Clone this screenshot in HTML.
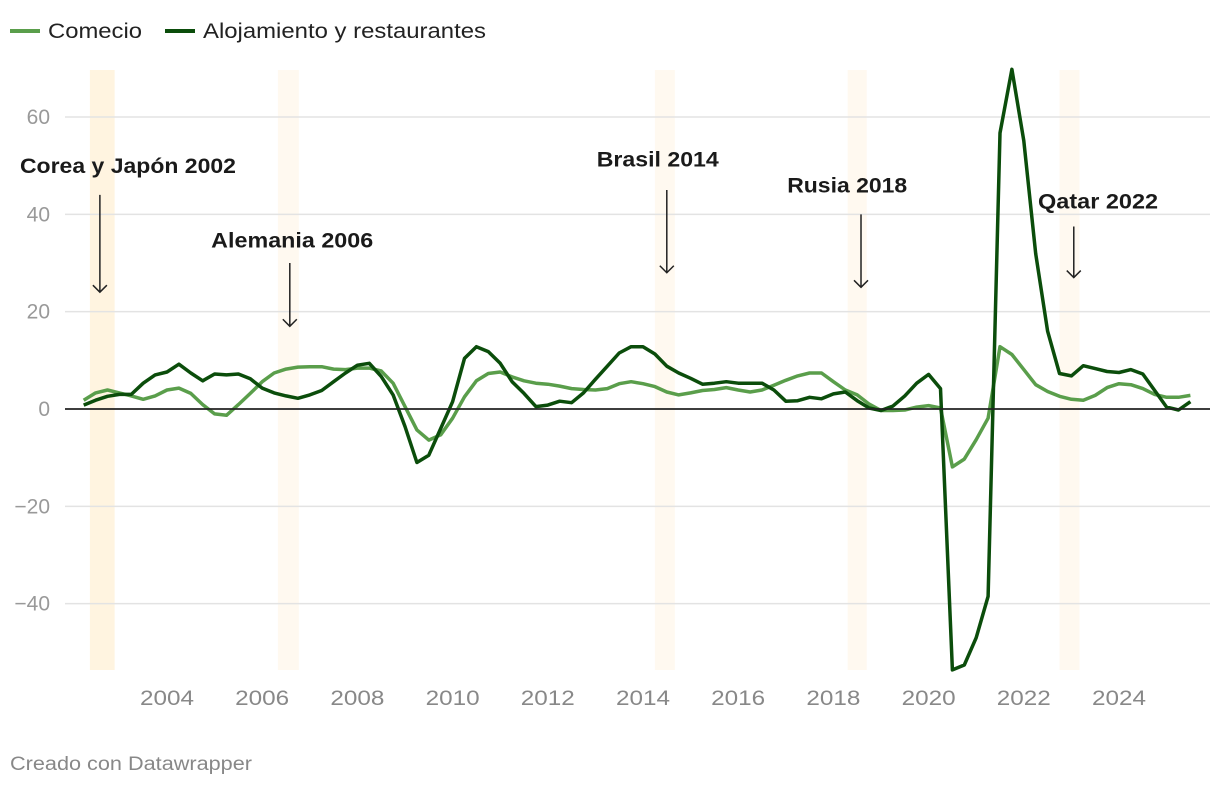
<!DOCTYPE html>
<html><head><meta charset="utf-8">
<style>
html,body{margin:0;padding:0;background:#fff;}
body{width:1220px;height:786px;overflow:hidden;font-family:"Liberation Sans",sans-serif;}
svg text{font-family:"Liberation Sans",sans-serif;}
</style></head>
<body>
<svg id="chart" width="1220" height="786" xmlns="http://www.w3.org/2000/svg">
  <g>
    <g>
      <line x1="10" y1="31" x2="40" y2="31" stroke="#5a9e4b" stroke-width="4"/>
      <text x="48" y="38" font-size="21" fill="#222" textLength="94" lengthAdjust="spacingAndGlyphs">Comecio</text>
    </g>
    <g>
      <line x1="165" y1="31" x2="195" y2="31" stroke="#0b4d0b" stroke-width="4"/>
      <text x="203" y="38" font-size="21" fill="#222" textLength="283" lengthAdjust="spacingAndGlyphs">Alojamiento y restaurantes</text>
    </g>
  </g>
  <g id="bands"></g>
  <g id="grid"></g>
  <g id="yaxis"></g>
  <g id="xaxis"></g>
  <g id="series"></g>
  <g id="annots"></g>
  <text x="10" y="770" font-size="19" fill="#888" textLength="242" lengthAdjust="spacingAndGlyphs">Creado con Datawrapper</text>
</svg>
<script>
const startYear = 2002.25;
const comercio = [1.8,3.3,3.9,3.3,2.7,2.0,2.7,3.9,4.3,3.2,0.9,-1.0,-1.3,0.9,3.2,5.6,7.4,8.2,8.6,8.7,8.7,8.2,8.1,8.4,8.4,7.8,5.3,0.5,-4.3,-6.4,-5.3,-1.9,2.5,5.8,7.3,7.6,6.6,5.8,5.3,5.1,4.7,4.2,4.0,3.9,4.2,5.2,5.6,5.2,4.6,3.5,2.9,3.3,3.8,4.0,4.4,3.9,3.5,3.9,4.9,5.9,6.8,7.4,7.4,5.6,3.9,2.9,1.0,-0.3,-0.3,-0.2,0.4,0.7,0.2,-11.9,-10.3,-6.3,-1.9,12.8,11.2,8.1,5.0,3.6,2.6,2.0,1.8,2.8,4.4,5.2,5.0,4.2,3.0,2.4,2.4,2.8];
const alojamiento = [0.8,1.8,2.6,3.0,3.0,5.3,7.0,7.6,9.2,7.4,5.8,7.2,7.0,7.2,6.2,4.3,3.3,2.7,2.2,2.9,3.8,5.6,7.4,9.0,9.4,6.7,2.9,-3.6,-11.0,-9.5,-4.0,1.5,10.4,12.8,11.8,9.4,5.6,3.2,0.5,0.8,1.6,1.3,3.3,6.1,8.8,11.5,12.8,12.8,11.3,8.8,7.4,6.3,5.1,5.3,5.6,5.3,5.3,5.3,3.9,1.6,1.7,2.4,2.1,3.1,3.5,1.7,0.2,-0.3,0.6,2.7,5.3,7.1,4.2,-53.6,-52.6,-47.0,-38.5,56.7,69.8,55.1,31.9,16.0,7.3,6.8,8.9,8.3,7.7,7.5,8.1,7.2,3.8,0.4,-0.2,1.5];
const yTicks = [60,40,20,0,-20,-40];
const yTickLabels = ["60","40","20","0","\u221220","\u221240"];
const xTicks = [2004,2006,2008,2010,2012,2014,2016,2018,2020,2022,2024];
const bandStarts = [2002.38,2006.33,2014.25,2018.3,2022.75];
const bandEnds = [2002.9,2006.77,2014.67,2018.7,2023.17];
const eventLabels = ["Corea y Japón 2002","Alemania 2006","Brasil 2014","Rusia 2018","Qatar 2022"];
const eventYears = [2002.59,2006.58,2014.5,2018.58,2023.05];
const eventLabelX = [2003.18,2006.63,2014.31,2018.29,2023.56];
const eventLabelVal = [48.5,33.2,49.8,44.5,41.2];
const arrowTop = [44,30,45,40,37.5];
const arrowBot = [24,17,28,25,27];
const labelWidths = [216,162,122,120,120];

const NS="http://www.w3.org/2000/svg";
function x(t){return 167+(t-2004)*47.6;}
function y(v){return 409-v*4.867;}
function mk(tag,attrs,parent){const e=document.createElementNS(NS,tag);for(const k in attrs)e.setAttribute(k,attrs[k]);parent.appendChild(e);return e;}

const bands=document.getElementById('bands');
bandStarts.forEach((s,i)=>{
  const r=mk('rect',{x:x(s),y:70,width:x(bandEnds[i])-x(s),height:600,fill:i===0?'#fff4e0':'#fff9f0'},bands);
  
  
});
const grid=document.getElementById('grid'), yaxis=document.getElementById('yaxis');
yTicks.forEach((v,i)=>{
  if(v!==0){const l=mk('line',{x1:65,x2:1210,y1:y(v),y2:y(v),stroke:'#e3e3e3','stroke-width':1.5},grid);
  
  }
  const t=mk('text',{x:50,y:y(v)+7,'text-anchor':'end','font-size':21,fill:'#999'},yaxis);
  t.textContent=yTickLabels[i];
  
  
});
const xaxis=document.getElementById('xaxis');
xTicks.forEach(t=>{
  const e=mk('text',{x:x(t),y:705,'text-anchor':'middle','font-size':21,fill:'#888',textLength:54,lengthAdjust:'spacingAndGlyphs'},xaxis);
  e.textContent=t;
  
  
});
const series=document.getElementById('series');
function path(vals){return vals.map((v,i)=>(i?'L':'M')+x(startYear+i*0.25).toFixed(1)+','+y(v).toFixed(1)).join(' ');}
const p1=mk('path',{d:path(comercio),fill:'none',stroke:'#5a9e4b','stroke-width':3.5,'stroke-linejoin':'round'},series);


const p2=mk('path',{d:path(alojamiento),fill:'none',stroke:'#0b4d0b','stroke-width':3.5,'stroke-linejoin':'round'},series);


const zl=mk('line',{x1:65,x2:1210,y1:y(0),y2:y(0),stroke:'#222','stroke-width':1.8},series);



const annots=document.getElementById('annots');
eventLabels.forEach((lab,i)=>{
  const t=mk('text',{x:x(eventLabelX[i]),y:y(eventLabelVal[i]),'text-anchor':'middle','font-size':21,'font-weight':'bold',fill:'#1a1a1a',textLength:labelWidths[i],lengthAdjust:'spacingAndGlyphs'},annots);
  t.textContent=lab;
  
  
  const ax=x(eventYears[i]), y1=y(arrowTop[i]), y2=y(arrowBot[i]);
  const a=mk('path',{d:`M${ax},${y1} L${ax},${y2} M${ax-7},${y2-7} L${ax},${y2} L${ax+7},${y2-7}`,fill:'none',stroke:'#222','stroke-width':1.5},annots);
  
  
});
</script>
</body></html>
